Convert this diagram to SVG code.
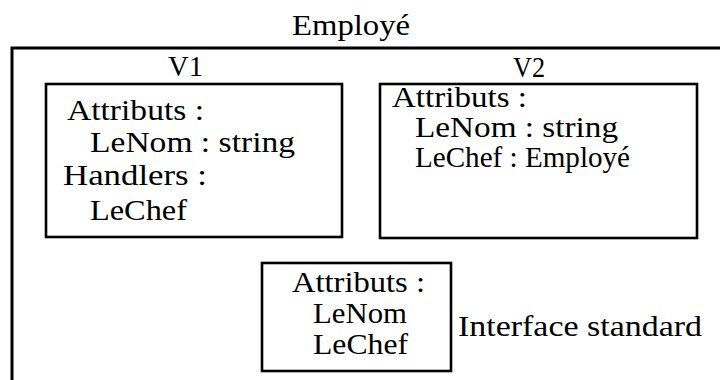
<svg xmlns="http://www.w3.org/2000/svg" width="720" height="380" viewBox="0 0 720 380">
<style>
text{font-family:"Liberation Serif","Times New Roman",serif;font-size:30px;fill:#000}
.box{fill:none;stroke:#000;stroke-width:2.6}
.frame{fill:none;stroke:#000;stroke-width:3}
</style>
<rect width="720" height="380" fill="#fff"/>
<g id="employe">
<path class="frame" d="M12,380 V48 H720"/>
<text x="292" y="35" textLength="118" lengthAdjust="spacingAndGlyphs">Employé</text>
</g>
<g id="v1">
<text x="168" y="76" textLength="35" lengthAdjust="spacingAndGlyphs">V1</text>
<rect class="box" x="46" y="84" width="296" height="153"/>
<text x="67" y="120" textLength="137" lengthAdjust="spacingAndGlyphs">Attributs :</text>
<text x="90" y="152" textLength="205" lengthAdjust="spacingAndGlyphs">LeNom : string</text>
<text x="63" y="185" textLength="144" lengthAdjust="spacingAndGlyphs">Handlers :</text>
<text x="90" y="220" textLength="97" lengthAdjust="spacingAndGlyphs">LeChef</text>
</g>
<g id="v2">
<text x="513" y="77" textLength="32" lengthAdjust="spacingAndGlyphs">V2</text>
<rect class="box" x="380" y="84" width="317" height="154"/>
<text x="392" y="107" textLength="135" lengthAdjust="spacingAndGlyphs">Attributs :</text>
<text x="415" y="137" textLength="203" lengthAdjust="spacingAndGlyphs">LeNom : string</text>
<text x="415" y="167" textLength="215" lengthAdjust="spacingAndGlyphs">LeChef : Employé</text>
</g>
<g id="interface">
<rect class="box" x="262" y="263" width="189" height="108"/>
<text x="292" y="292" textLength="133" lengthAdjust="spacingAndGlyphs">Attributs :</text>
<text x="313" y="323" textLength="94" lengthAdjust="spacingAndGlyphs">LeNom</text>
<text x="313" y="354" textLength="95" lengthAdjust="spacingAndGlyphs">LeChef</text>
<text x="458" y="336" textLength="244" lengthAdjust="spacingAndGlyphs">Interface standard</text>
</g>
<g id="connectors"/>
</svg>
